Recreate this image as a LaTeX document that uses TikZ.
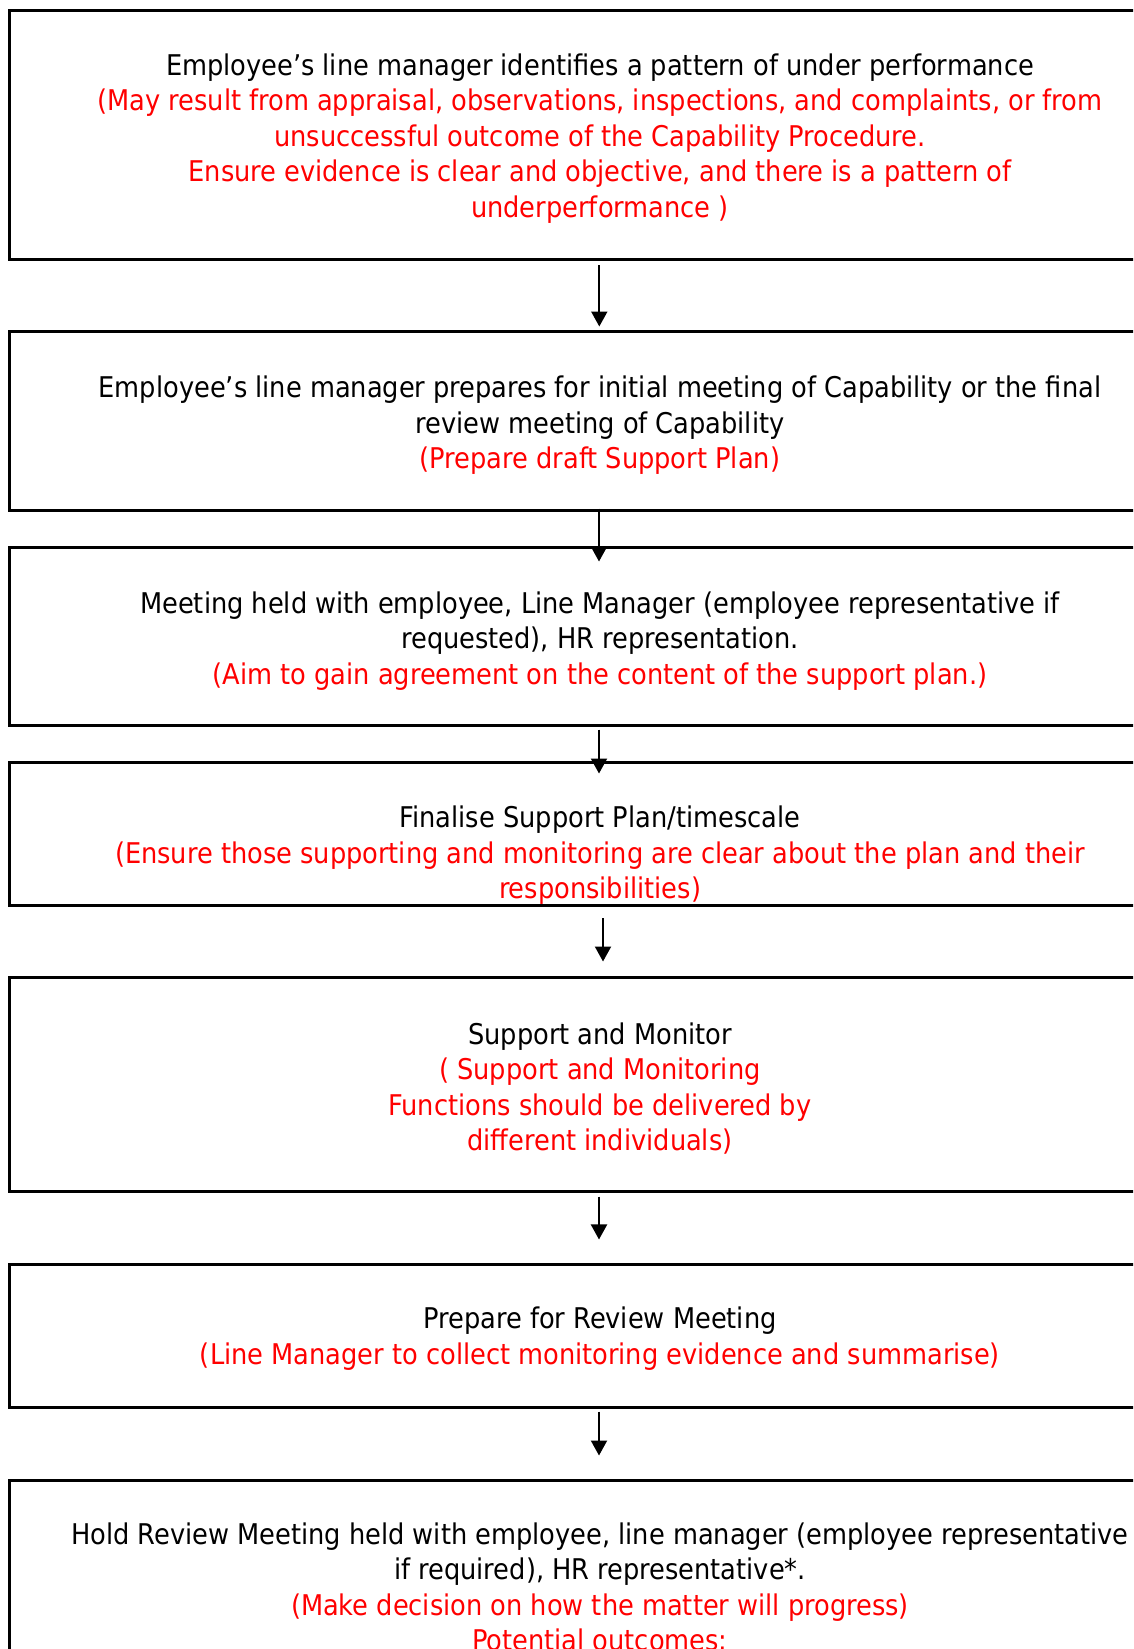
\documentclass[tikz,border=0pt]{standalone}
\usepackage{fontspec}
\setmainfont{DejaVu Sans Condensed}
\usetikzlibrary{arrows.meta,calc}
\definecolor{redtxt}{RGB}{255,0,0}
\tikzset{
  box/.style={draw,line width=2.25pt,minimum width=886.5pt,inner sep=0pt},
  txt/.style={align=center,inner sep=0pt,font=\fontsize{21.4pt}{26.6pt}\selectfont},
  arr/.style={line width=1.5pt,-{Triangle[length=11.25pt,width=12pt]}}
}
\begin{document}
\begin{tikzpicture}[x=0.75pt,y=-0.75pt]
    \clip (0,0) rectangle (1133,1649);
    \fill[white] (0,0) rectangle (1133,1649);
    % boxes
    \node[box,minimum height=187.1pt](b1) at (600,135.25) {};
    \node[box,minimum height=134.25pt](b2) at (600,421.2) {};
    \node[box,minimum height=133.5pt](b3) at (600,636.7) {};
    \node[box,minimum height=107.1pt](b4) at (600,834.1) {};
    \node[box,minimum height=160.5pt](b5) at (600,1084.7) {};
    \node[box,minimum height=106.9pt](b6) at (600,1335.75) {};
    \node[box,minimum height=165pt](b7) at (600,1590) {};
    % texts
    \node[txt](t1) at (600,138.5) {Employee’s line manager identifies a pattern of under performance\\
      \textcolor{redtxt}{(May result from appraisal, observations, inspections, and complaints, or from}\\
      \textcolor{redtxt}{unsuccessful outcome of the Capability Procedure.}\\
      \textcolor{redtxt}{Ensure evidence is clear and objective, and there is a pattern of}\\
      \textcolor{redtxt}{underperformance )}};
    \node[txt](t2) at (600,425.5) {Employee’s line manager prepares for initial meeting of Capability or the final\\
      review meeting of Capability\\
      \textcolor{redtxt}{(Prepare draft Support Plan)}};
    \node[txt](t3) at (600,641) {Meeting held with employee, Line Manager (employee representative if\\
      requested), HR representation.\\
      \textcolor{redtxt}{(Aim to gain agreement on the content of the support plan.)}};
    \node[txt](t4) at (600,855.5) {Finalise Support Plan/timescale\\
      \textcolor{redtxt}{(Ensure those supporting and monitoring are clear about the plan and their}\\
      \textcolor{redtxt}{responsibilities)}};
    \node[txt](t5) at (600,1088.5) {Support and Monitor\\
      \textcolor{redtxt}{( Support and Monitoring}\\
      \textcolor{redtxt}{Functions should be delivered by}\\
      \textcolor{redtxt}{different individuals)}};
    \node[txt](t6) at (600,1338.5) {Prepare for Review Meeting\\
      \textcolor{redtxt}{(Line Manager to collect monitoring evidence and summarise)}};
    \node[txt](t7) at (600,1587) {Hold Review Meeting held with employee, line manager (employee representative\\
      if required), HR representative*.\\
      \textcolor{redtxt}{(Make decision on how the matter will progress)}\\
      \textcolor{redtxt}{Potential outcomes:}};
    % arrows
    \draw[arr] ($(b1.south)+(-0.7,4)$) -- ($(b2.north)+(-0.7,-3.7)$);
    \draw[arr] ($(b2.south)+(-1,-3.7)$) -- ($(b3.north)+(-1,15.3)$);
    \draw[arr] ($(b3.south)+(-1,2.3)$) -- ($(b4.north)+(-1,12.3)$);
    \draw[arr] ($(b4.south)+(3,11.2)$) -- ($(b5.north)+(3,-14.7)$);
    \draw[arr] ($(b5.south)+(-1,3.3)$) -- ($(b6.north)+(-1,-23.5)$);
    \draw[arr] ($(b6.south)+(-1,3)$) -- ($(b7.north)+(-1,-23)$);
\end{tikzpicture}
\end{document}
